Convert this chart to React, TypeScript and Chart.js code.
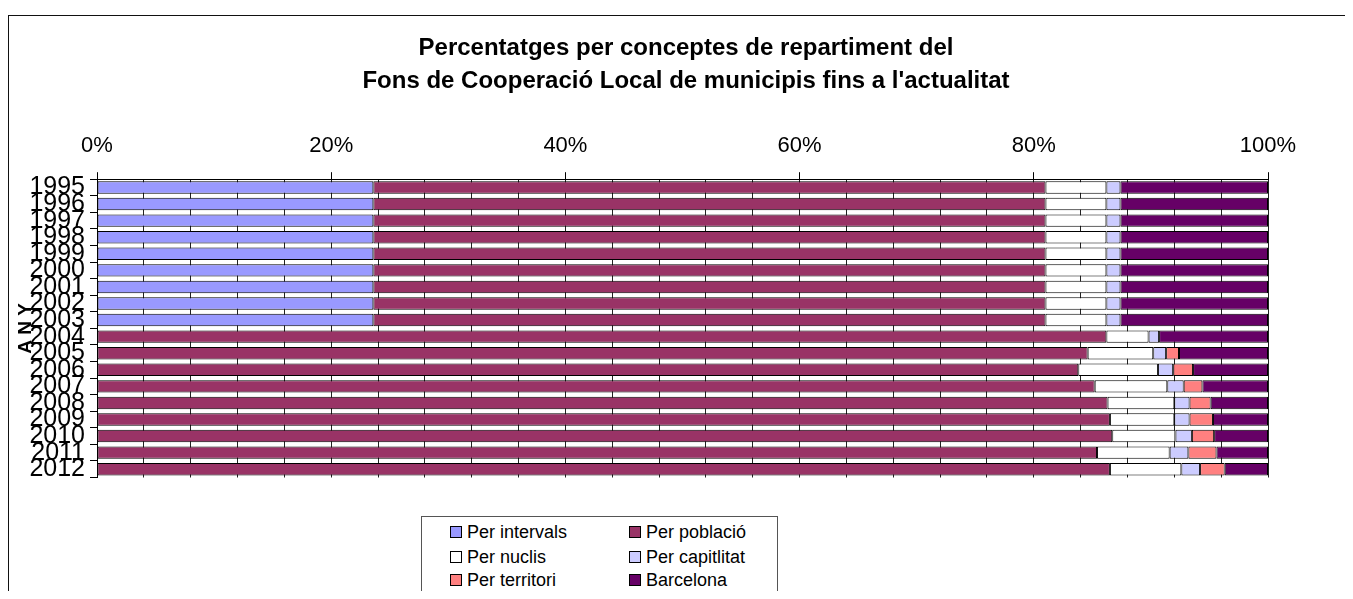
import React, { useEffect, useRef, useState } from "react";
import { Chart, registerables } from "chart.js";

Chart.register(...registerables);

const years = ["1995", "1996", "1997", "1998", "1999", "2000", "2001", "2002", "2003", "2004", "2005", "2006", "2007", "2008", "2009", "2010", "2011", "2012"];
const perIntervals = [23.6, 23.6, 23.6, 23.6, 23.6, 23.6, 23.6, 23.6, 23.6, null, null, null, null, null, null, null, null, null];
const perPoblacio = [57.4, 57.4, 57.4, 57.4, 57.4, 57.4, 57.4, 57.4, 57.4, 86.2, 84.6, 83.8, 85.2, 86.3, 86.5, 86.7, 85.4, 86.5];
const perNuclis = [5.2, 5.2, 5.2, 5.2, 5.2, 5.2, 5.2, 5.2, 5.2, 3.6, 5.6, 6.8, 6.2, 5.7, 5.5, 5.4, 6.2, 6.1];
const perCapitalitat = [1.2, 1.2, 1.2, 1.2, 1.2, 1.2, 1.2, 1.2, 1.2, 0.9, 1.1, 1.3, 1.4, 1.3, 1.3, 1.4, 1.6, 1.6];
const perTerritori = [null, null, null, null, null, null, null, null, null, null, 1.1, 1.7, 1.6, 1.8, 2.0, 1.9, 2.4, 2.1];
const barcelona = [12.6, 12.6, 12.6, 12.6, 12.6, 12.6, 12.6, 12.6, 12.6, 9.3, 7.6, 6.4, 5.6, 4.9, 4.7, 4.6, 4.4, 3.7];

const seriesNames = ["Per intervals", "Per població", "Per nuclis", "Per capitlitat", "Per territori", "Barcelona"];
const seriesColors = ["#9999FF", "#993366", "#FFFFFF", "#CCCCFF", "#FF8080", "#660066"];
const seriesData = [perIntervals, perPoblacio, perNuclis, perCapitalitat, perTerritori, barcelona];

const titleLines = ["Percentatges per conceptes de repartiment del", "Fons de Cooperació Local de municipis fins a l'actualitat"];
const yTitle = "A N Y";

const FONT = "'Liberation Sans', Arial, sans-serif";

// centre the title over the whole canvas (as in the reference) rather than the padded box
const centerTitle = {
  id: "centerTitle",
  afterLayout(chart: any) {
    const t = chart.titleBlock;
    if (t) {
      t.left = 0;
      t.right = chart.width + 10;
    }
  },
};

export default function App() {
  const ref = useRef<HTMLCanvasElement | null>(null);
  const [err, setErr] = useState("");

  useEffect(() => {
    if (!ref.current) return;
    let chart: any = null;
    try {
      chart = new Chart(ref.current, {
        type: "bar",
        data: {
          labels: years,
          datasets: seriesNames.map((name, i) => ({
            label: name,
            data: seriesData[i] as any,
            backgroundColor: seriesColors[i],
            borderColor: "#000",
            borderWidth: 1,
            borderSkipped: false,
            barPercentage: 0.75,
            categoryPercentage: 1,
          })),
        },
        plugins: [centerTitle],
        options: {
          indexAxis: "y",
          animation: false,
          responsive: false,
          maintainAspectRatio: false,
          layout: { padding: { left: 0, right: 85, top: 0, bottom: 121.5 } },
          plugins: {
            legend: { display: false },
            tooltip: { enabled: false },
            title: {
              display: true,
              text: titleLines,
              color: "#000",
              font: { size: 24, weight: "bold", lineHeight: 1.375, family: FONT },
              padding: { top: 15.5, bottom: 0 },
            },
          },
          scales: {
            x: {
              position: "top",
              stacked: true,
              min: 0,
              max: 100,
              afterFit: (s: any) => {
                s.height = 81.7;
              },
              ticks: {
                stepSize: 4,
                autoSkip: false,
                maxRotation: 0,
                padding: 13,
                color: "#000",
                font: { size: 22, family: FONT },
                callback: (v: any) => (Number(v) % 20 === 0 ? v + "%" : ""),
              },
              grid: {
                color: "#222",
                lineWidth: 1,
                drawTicks: true,
                tickLength: 7,
                tickColor: (c: any) => (c.tick && Number(c.tick.value) % 20 === 0 ? "#000" : "rgba(0,0,0,0)"),
              },
              border: { display: true, color: "#000", width: 1 },
            },
            y: {
              stacked: true,
              afterFit: (s: any) => {
                s.width = 88;
              },
              ticks: {
                autoSkip: false,
                padding: 5,
                color: "#000",
                font: { size: 25, family: FONT },
              },
              grid: {
                offset: true,
                drawOnChartArea: false,
                drawTicks: true,
                tickLength: 7,
                tickColor: "#000",
              },
              border: { display: true, color: "#000", width: 1 },
              title: {
                display: true,
                text: yTitle,
                color: "#000",
                font: { size: 19, weight: "bold", family: FONT },
                padding: { top: 5.5, bottom: 0 },
              },
            },
          },
        } as any,
      });
    } catch (e: any) {
      setErr(String(e && e.stack ? e.stack : e));
    }
    return () => {
      if (chart) chart.destroy();
    };
  }, []);

  const legendRows = [
    [0, 1],
    [2, 3],
    [4, 5],
  ];

  return (
    <div style={{ position: "relative", width: 1345, height: 591, marginBottom: -8 }}>
      <div
        style={{
          position: "absolute",
          left: 0,
          top: 7,
          width: 1345,
          height: 584,
          borderLeft: "1px solid #111",
          borderTop: "1px solid #111",
          boxSizing: "border-box",
          background: "#fff",
        }}
      >
        <canvas ref={ref} width={1344} height={583} style={{ position: "absolute", left: 0, top: 0, width: 1344, height: 583 }} />
        <div
          style={{
            position: "absolute",
            left: 412,
            top: 500,
            width: 357,
            height: 77,
            border: "1px solid #555",
            boxSizing: "border-box",
            background: "#fff",
            fontFamily: FONT,
            fontSize: 18,
            color: "#000",
          }}
        >
          {legendRows.map((row, r) =>
            row.map((idx, c) => (
              <div
                key={idx}
                style={{
                  position: "absolute",
                  left: c === 0 ? 28 : 207,
                  top: [5, 30, 53][r],
                  height: 20,
                  display: "flex",
                  alignItems: "center",
                  whiteSpace: "nowrap",
                  lineHeight: "20px",
                }}
              >
                <span
                  style={{
                    display: "inline-block",
                    width: 12,
                    height: 12,
                    boxSizing: "border-box",
                    border: "1px solid #000",
                    background: seriesColors[idx],
                    marginRight: 5,
                  }}
                />
                <span>{seriesNames[idx]}</span>
              </div>
            ))
          )}
        </div>
        {err ? <pre style={{ position: "absolute", left: 10, top: 10, fontSize: 12, color: "red" }}>{err}</pre> : null}
      </div>
    </div>
  );
}
